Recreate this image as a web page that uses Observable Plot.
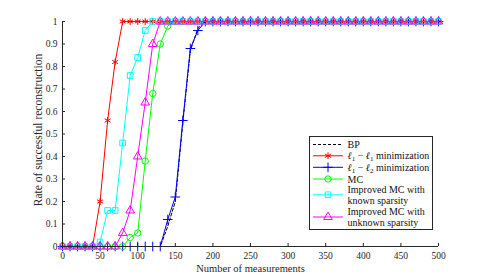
<!DOCTYPE html>
<html>
<head>
<meta charset="utf-8">
<script src="https://cdn.jsdelivr.net/npm/d3@7"></script>
<script src="https://cdn.jsdelivr.net/npm/@observablehq/plot@0.6"></script>
<style>
  html, body { margin: 0; padding: 0; background: #fff; }
  #wrap { position: relative; width: 485px; height: 277px; overflow: hidden; }
  #legend { position: absolute; left: 309px; top: 136px; }
</style>
</head>
<body>
<div id="wrap"></div>
<script>
// ---- data ----
const measurements = [
  0, 10, 20, 30, 40, 50, 60, 70, 80, 90,
  100, 110, 120, 130, 140, 150, 160, 170, 180, 190,
  200, 210, 220, 230, 240, 250, 260, 270, 280, 290,
  300, 310, 320, 330, 340, 350, 360, 370, 380, 390,
  400, 410, 420, 430, 440, 450, 460, 470, 480, 490,
  500
];
const bpRate = [
  0, 0, 0, 0, 0, 0, 0, 0, 0, 0,
  0, 0, 0, 0, 0.09, 0.2, 0.55, 0.87, 0.97, 1,
  1, 1, 1, 1, 1, 1, 1, 1, 1, 1,
  1, 1, 1, 1, 1, 1, 1, 1, 1, 1,
  1, 1, 1, 1, 1, 1, 1, 1, 1, 1,
  1
];
const l1l1Rate = [
  0, 0, 0, 0, 0, 0.2, 0.56, 0.82, 1, 1,
  1, 1, 1, 1, 1, 1, 1, 1, 1, 1,
  1, 1, 1, 1, 1, 1, 1, 1, 1, 1,
  1, 1, 1, 1, 1, 1, 1, 1, 1, 1,
  1, 1, 1, 1, 1, 1, 1, 1, 1, 1,
  1
];
const l1l2Rate = [
  0, 0, 0, 0, 0, 0, 0, 0, 0, 0,
  0, 0, 0, 0, 0.12, 0.22, 0.56, 0.88, 0.96, 1,
  1, 1, 1, 1, 1, 1, 1, 1, 1, 1,
  1, 1, 1, 1, 1, 1, 1, 1, 1, 1,
  1, 1, 1, 1, 1, 1, 1, 1, 1, 1,
  1
];
const mcRate = [
  0, 0, 0, 0, 0, 0, 0, 0, 0, 0.04,
  0.06, 0.38, 0.68, 0.9, 0.98, 1, 1, 1, 1, 1,
  1, 1, 1, 1, 1, 1, 1, 1, 1, 1,
  1, 1, 1, 1, 1, 1, 1, 1, 1, 1,
  1, 1, 1, 1, 1, 1, 1, 1, 1, 1,
  1
];
const mcKnownRate = [
  0, 0, 0, 0, 0, 0.02, 0.16, 0.16, 0.46, 0.76,
  0.84, 0.96, 1, 1, 1, 1, 1, 1, 1, 1,
  1, 1, 1, 1, 1, 1, 1, 1, 1, 1,
  1, 1, 1, 1, 1, 1, 1, 1, 1, 1,
  1, 1, 1, 1, 1, 1, 1, 1, 1, 1,
  1
];
const mcUnknownRate = [
  0, 0, 0, 0, 0, 0, 0, 0, 0.06, 0.16,
  0.4, 0.64, 0.9, 1, 1, 1, 1, 1, 1, 1,
  1, 1, 1, 1, 1, 1, 1, 1, 1, 1,
  1, 1, 1, 1, 1, 1, 1, 1, 1, 1,
  1, 1, 1, 1, 1, 1, 1, 1, 1, 1,
  1
];
const xTicks = [0, 50, 100, 150, 200, 250, 300, 350, 400, 450, 500];
const yTicks = [0, 0.1, 0.2, 0.3, 0.4, 0.5, 0.6, 0.7, 0.8, 0.9, 1];
const yTickLabels = ["0", "0.1", "0.2", "0.3", "0.4", "0.5", "0.6", "0.7", "0.8", "0.9", "1"];
const xLabel = "Number of measurements";
const yLabel = "Rate of successful reconstruction";

// series table (legend order)
const series = [
  {name: "BP", values: bpRate, color: "#000000", symbol: null, dash: "3,2"},
  {name: "l1l1", values: l1l1Rate, color: "#ff0000", symbol: "asterisk", dash: null},
  {name: "l1l2", values: l1l2Rate, color: "#0000ff", symbol: "plus", dash: null},
  {name: "MC", values: mcRate, color: "#00ff00", symbol: "circle", dash: null},
  {name: "MC known", values: mcKnownRate, color: "#00ffff", symbol: "square", dash: null},
  {name: "MC unknown", values: mcUnknownRate, color: "#ff00ff", symbol: "triangle", dash: null}
];

const R = 3.2;
const marks = [];
for (const s of series) {
  const rows = measurements.map((m, i) => ({m, v: s.values[i]}));
  marks.push(Plot.line(rows, {x: "m", y: "v", stroke: s.color, strokeWidth: 1,
    strokeDasharray: s.dash || undefined}));
  if (s.symbol) {
    marks.push(Plot.dot(rows, {x: "m", y: "v", stroke: s.color, fill: "none",
      symbol: s.symbol, r: R, strokeWidth: 1}));
  }
}

const chart = Plot.plot({
  width: 485,
  height: 277,
  marginLeft: 62,
  marginRight: 47,
  marginTop: 21,
  marginBottom: 31,
  style: {fontFamily: "'Liberation Serif', serif", fontSize: "9.5px", color: "#262626", background: "#fff"},
  x: {domain: [0, 500]},
  y: {domain: [0, 1]},
  marks: [
    Plot.axisX({ticks: xTicks, tickSize: -3, tickPadding: 9, label: null, stroke: "#262626", fill: "#262626"}),
    Plot.axisY({ticks: yTicks, tickSize: -3, tickPadding: 8, label: null,
      tickFormat: (d) => yTickLabels[yTicks.indexOf(d)], stroke: "#262626", fill: "#262626"}),
    ...marks,
    Plot.ruleX([0], {stroke: "#262626"}),
    Plot.ruleY([0], {stroke: "#262626"}),
    Plot.text([xLabel], {frameAnchor: "bottom", textAnchor: "middle", lineAnchor: "middle",
      dy: 22, dx: 0, fontSize: 10.5, fill: "#262626"}),
    Plot.text([yLabel], {frameAnchor: "left", textAnchor: "middle", lineAnchor: "middle",
      rotate: -90, dx: -24, dy: -4, fontSize: 11.5, fill: "#262626"})
  ]
});
document.getElementById("wrap").appendChild(chart);

// ---- legend (overlay box) ----
const LW = 124, LH = 94;
const leg = d3.create("svg").attr("id", "legend").attr("width", LW).attr("height", LH)
  .style("font-family", "'Liberation Serif', serif").style("font-size", "10px");
leg.append("rect").attr("x", 0.5).attr("y", 0.5).attr("width", LW - 1).attr("height", LH - 1)
  .attr("fill", "#fff").attr("stroke", "#262626").attr("stroke-width", 1);

const symMap = {asterisk: d3.symbolAsterisk, plus: d3.symbolPlus, circle: d3.symbolCircle,
  square: d3.symbolSquare, triangle: d3.symbolTriangle};
const entryY = [8.5, 19.8, 31.3, 43, 58.8, 81];
const entryLines = [
  ["BP"],
  ["l1l1"],
  ["l1l2"],
  ["MC"],
  ["Improved MC with", "known sparsity"],
  ["Improved MC with", "unknown sparsity"]
];
series.forEach((s, i) => {
  const y = entryY[i];
  leg.append("line").attr("x1", 4).attr("x2", 34).attr("y1", y).attr("y2", y)
    .attr("stroke", s.color).attr("stroke-width", 1)
    .attr("stroke-dasharray", s.dash || null);
  if (s.symbol) {
    leg.append("path").attr("d", d3.symbol(symMap[s.symbol], Math.PI * R * R)())
      .attr("transform", `translate(19,${y})`)
      .attr("fill", "none").attr("stroke", s.color).attr("stroke-width", 1);
  }
  const lines = entryLines[i];
  lines.forEach((txt, j) => {
    const ty = y + (lines.length === 2 ? (j === 0 ? -5.5 : 5.5) : 0);
    const t = leg.append("text").attr("x", 38.5).attr("y", ty).attr("dy", "0.35em").attr("fill", "#111");
    if (txt === "l1l1" || txt === "l1l2") {
      const sub2 = txt === "l1l1" ? "1" : "2";
      t.append("tspan").attr("font-style", "italic").text("ℓ");
      t.append("tspan").attr("font-size", "7px").attr("dy", "2").text("1");
      t.append("tspan").attr("dy", "-2").text(" − ");
      t.append("tspan").attr("font-style", "italic").text("ℓ");
      t.append("tspan").attr("font-size", "7px").attr("dy", "2").text(sub2);
      t.append("tspan").attr("dy", "-2").text(" minimization");
    } else {
      t.text(txt);
    }
  });
});
document.getElementById("wrap").appendChild(leg.node());
</script>
</body>
</html>
